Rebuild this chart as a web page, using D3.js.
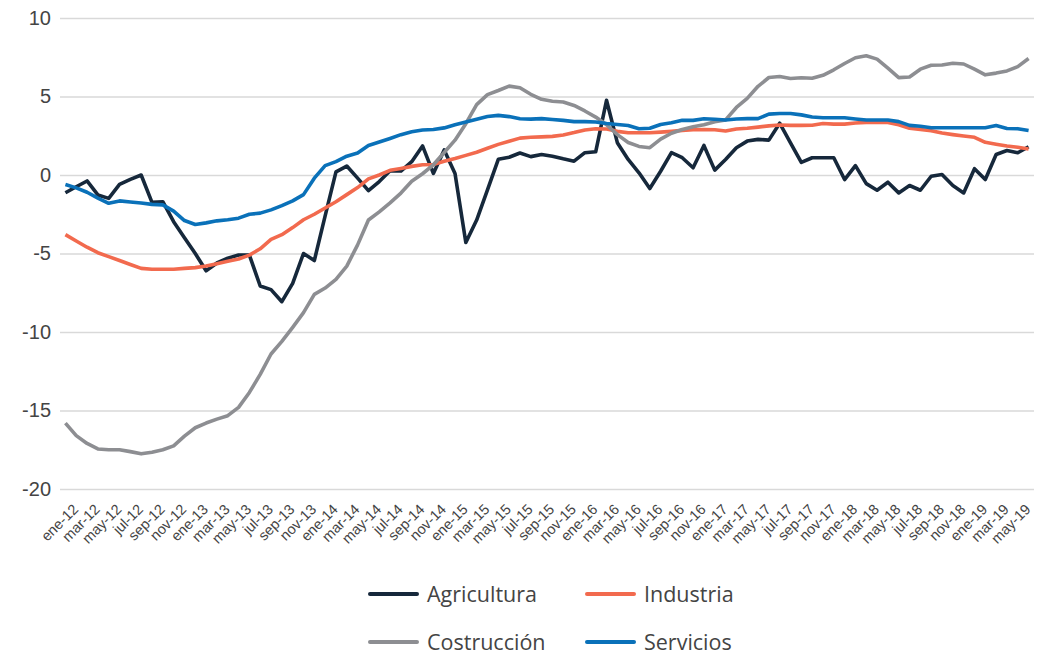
<!DOCTYPE html>
<html>
<head>
<meta charset="utf-8">
<script src="https://cdn.jsdelivr.net/npm/d3@7"></script>
<style>
  html, body { margin: 0; padding: 0; background: #ffffff; }
  svg { display: block; font-family: "Open Sans", "Noto Sans", sans-serif; }
</style>
</head>
<body>
<svg id="chart" width="1041" height="655"></svg>
<script>
// Monthly categories: ene-12 … jun-19
const monthNames = ["ene","feb","mar","abr","may","jun","jul","ago","sep","oct","nov","dic"];
const years = ["12","13","14","15","16","17","18","19"];
const categories = [];
years.forEach(yy => monthNames.forEach(m => categories.push(m + "-" + yy)));
categories.length = 90;

// Axis ticks
const yTicks = [10, 5, 0, -5, -10, -15, -20];
const xTickLabels = categories.filter((d, i) => i % 2 === 0);

// Series values (%)
const agricultura = [
  -1.13, -0.75, -0.38, -1.27, -1.49, -0.6, -0.28, 0.0, -1.74, -1.7,
  -2.97, -4.0, -5.0, -6.1, -5.6, -5.3, -5.1, -5.1, -7.07, -7.3,
  -8.07, -6.9, -5.0, -5.45, -2.6, 0.2, 0.57, -0.2, -1.0, -0.42,
  0.27, 0.25, 0.85, 1.85, 0.1, 1.6, 0.1, -4.3, -2.87, -0.95,
  1.0, 1.13, 1.4, 1.17, 1.31, 1.2, 1.03, 0.88, 1.42, 1.48,
  4.76, 2.06, 0.99, 0.14, -0.86, 0.24, 1.42, 1.1, 0.46, 1.88,
  0.31, 0.99, 1.74, 2.16, 2.27, 2.22, 3.3, 2.05, 0.8, 1.1,
  1.1, 1.1, -0.29, 0.6, -0.55, -0.97, -0.46, -1.14, -0.67, -0.97,
  -0.08, 0.03, -0.67, -1.14, 0.4, -0.29, 1.31, 1.56, 1.42, 1.8
];
const industria = [
  -3.8, -4.2, -4.6, -4.95, -5.2, -5.45, -5.7, -5.95, -6.0, -6.0,
  -6.0, -5.95, -5.9, -5.8, -5.65, -5.5, -5.35, -5.1, -4.7, -4.1,
  -3.8, -3.35, -2.85, -2.5, -2.1, -1.7, -1.25, -0.8, -0.25, 0.0,
  0.3, 0.42, 0.55, 0.65, 0.67, 0.88, 1.05, 1.25, 1.45, 1.7,
  1.95, 2.15, 2.35, 2.4, 2.43, 2.46, 2.55, 2.7, 2.87, 2.95,
  2.93, 2.78, 2.69, 2.69, 2.69, 2.73, 2.78, 2.84, 2.88, 2.9,
  2.88, 2.8, 2.93, 2.98, 3.05, 3.13, 3.18, 3.16, 3.16, 3.17,
  3.28, 3.24, 3.24, 3.31, 3.35, 3.37, 3.35, 3.2, 2.98, 2.9,
  2.82, 2.67, 2.57, 2.48, 2.4, 2.08, 1.96, 1.85, 1.77, 1.65
];
const costruccion = [
  -15.8, -16.6, -17.1, -17.45, -17.5, -17.5, -17.62, -17.76, -17.66, -17.5,
  -17.25, -16.63, -16.1, -15.8, -15.55, -15.33, -14.8, -13.85, -12.7, -11.4,
  -10.6, -9.7, -8.77, -7.6, -7.2, -6.65, -5.8, -4.45, -2.87, -2.35,
  -1.77, -1.15, -0.4, 0.08, 0.65, 1.43, 2.22, 3.27, 4.48, 5.12,
  5.38, 5.66, 5.56, 5.14, 4.82, 4.7, 4.65, 4.43, 4.08, 3.69,
  3.2, 2.57, 2.07, 1.82, 1.74, 2.29, 2.66, 2.9, 3.07, 3.2,
  3.39, 3.51, 4.3, 4.88, 5.65, 6.21, 6.27, 6.15, 6.19, 6.16,
  6.35, 6.7, 7.1, 7.47, 7.59, 7.38, 6.8, 6.2, 6.24, 6.74,
  6.99, 7.01, 7.12, 7.07, 6.74, 6.38, 6.49, 6.63, 6.9, 7.42
];
const servicios = [
  -0.6, -0.82, -1.1, -1.47, -1.8, -1.65, -1.72, -1.78, -1.87, -1.9,
  -2.3, -2.9, -3.15, -3.05, -2.92, -2.85, -2.75, -2.5, -2.43, -2.22,
  -1.95, -1.65, -1.25, -0.2, 0.6, 0.85, 1.2, 1.4, 1.88, 2.1,
  2.33, 2.57, 2.75, 2.87, 2.9, 3.0, 3.2, 3.37, 3.55, 3.73,
  3.8, 3.72, 3.58, 3.56, 3.59, 3.54, 3.48, 3.4, 3.4, 3.38,
  3.28, 3.22, 3.15, 2.95, 2.98, 3.22, 3.33, 3.48, 3.48, 3.58,
  3.55, 3.5, 3.57, 3.59, 3.59, 3.88, 3.92, 3.92, 3.83, 3.69,
  3.65, 3.65, 3.65, 3.57, 3.5, 3.5, 3.5, 3.4, 3.16, 3.11,
  3.01, 3.01, 3.01, 3.01, 3.01, 3.01, 3.15, 2.96, 2.95, 2.84
];

const seriesNames = ["Agricultura", "Industria", "Costrucción", "Servicios"];
const seriesColors = ["#16283b", "#f26a4e", "#8d8e92", "#0a71b9"];
const seriesValues = [agricultura, industria, costruccion, servicios];

const svg = d3.select("#chart");
const plot = { left: 60, right: 1034, top: 18, bottom: 489 };

const x = d3.scalePoint()
  .domain(categories)
  .range([plot.left, plot.right])
  .padding(0.5);

const y = d3.scaleLinear()
  .domain([-20, 10])
  .range([plot.bottom, plot.top]);

// Horizontal gridlines with value labels
const yAxis = svg.append("g")
  .attr("transform", `translate(${plot.left},0)`)
  .call(d3.axisLeft(y)
    .tickValues(yTicks)
    .tickSize(-(plot.right - plot.left))
    .tickPadding(9)
    .tickFormat(d3.format("d")));
yAxis.select(".domain").remove();
yAxis.selectAll(".tick line")
  .attr("stroke", "#d9d9d9")
  .attr("stroke-width", 1.6);
yAxis.selectAll(".tick text")
  .attr("fill", "#444444")
  .style("font-size", "20px")
  .text(d => d < 0 ? "-" + Math.abs(d) : d);

// Month labels, rotated
const xAxis = svg.append("g")
  .attr("transform", `translate(0,${plot.bottom + 14})`)
  .call(d3.axisBottom(x).tickValues(xTickLabels).tickSize(0).tickPadding(0));
xAxis.select(".domain").remove();
xAxis.selectAll(".tick text")
  .attr("fill", "#444444")
  .style("font-size", "14.5px")
  .attr("text-anchor", "end")
  .attr("dy", "0.7em")
  .attr("transform", "translate(6,0) rotate(-45)");

// Series lines
const line = d3.line()
  .x((d, i) => x(categories[i]))
  .y(d => y(d));

svg.append("g")
  .selectAll("path")
  .data(seriesValues)
  .join("path")
  .attr("d", d => line(d))
  .attr("fill", "none")
  .attr("stroke", (d, i) => seriesColors[i])
  .attr("stroke-width", 3.6)
  .attr("stroke-linejoin", "round")
  .attr("stroke-linecap", "butt");

// Legend (2 x 2)
const legendPos = [[370, 594], [587, 594], [370, 642], [587, 642]];
const legend = svg.append("g")
  .selectAll("g")
  .data(seriesNames)
  .join("g")
  .attr("transform", (d, i) => `translate(${legendPos[i][0]},${legendPos[i][1]})`);
legend.append("line")
  .attr("x1", 0).attr("x2", 47)
  .attr("y1", 0).attr("y2", 0)
  .attr("stroke", (d, i) => seriesColors[i])
  .attr("stroke-width", 4)
  .attr("stroke-linecap", "round");
legend.append("text")
  .attr("x", 57)
  .attr("y", 0)
  .attr("dy", "0.35em")
  .attr("fill", "#444444")
  .style("font-size", "21.5px")
  .text(d => d);
</script>
</body>
</html>
